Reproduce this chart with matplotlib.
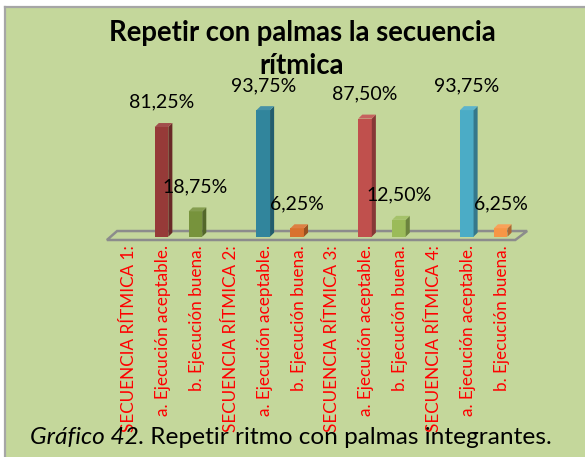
import matplotlib
matplotlib.use('Agg')
import matplotlib.pyplot as plt
from matplotlib.patches import Rectangle, Polygon
from matplotlib.lines import Line2D
from matplotlib.colors import to_rgb
import numpy as np

plt.rcParams['font.family'] = ['Lato', 'DejaVu Sans']

categories = ["SECUENCIA RÍTMICA 1:", "a. Ejecución aceptable.", "b. Ejecución buena.",
              "SECUENCIA RÍTMICA 2:", "a. Ejecución aceptable.", "b. Ejecución buena.",
              "SECUENCIA RÍTMICA 3:", "a. Ejecución aceptable.", "b. Ejecución buena.",
              "SECUENCIA RÍTMICA 4:", "a. Ejecución aceptable.", "b. Ejecución buena."]
values = [None, 81.25, 18.75, None, 93.75, 6.25, None, 87.50, 12.50, None, 93.75, 6.25]
value_labels = ["", "81,25%", "18,75%", "", "93,75%", "6,25%", "", "87,50%", "12,50%", "", "93,75%", "6,25%"]
bar_colors = [None, "#963A38", "#77933C", None, "#31859C", "#D9722E", None, "#C0504D", "#9BBB59", None, "#4BACC6", "#F79646"]

title_line1 = "Repetir con palmas la secuencia"
title_line2 = "rítmica"
caption_italic = "Gráfico 42."
caption_rest = " Repetir ritmo con palmas integrantes."

W, H = 585, 457
fig = plt.figure(figsize=(W / 100, H / 100), dpi=100)
fig.patch.set_facecolor('white')

bg = "#C4D79B"
fig.add_artist(Rectangle((5 / W, 0), 1 - 5 / W, 1 - 7 / H, transform=fig.transFigure,
                         facecolor=bg, edgecolor='none', zorder=-10))
fig.add_artist(Line2D([5 / W, 5 / W], [0, 1 - 7 / H], transform=fig.transFigure, color='#A6A6A6', lw=1.6))
fig.add_artist(Line2D([5 / W, 1], [1 - 7 / H, 1 - 7 / H], transform=fig.transFigure, color='#A6A6A6', lw=1.6))

ax_left, ax_right = 112, 519
ax_bottom, ax_top = 236.7, 101.7
ax = fig.add_axes([ax_left / W, (H - ax_bottom) / H, (ax_right - ax_left) / W, (ax_bottom - ax_top) / H])
ax.set_xlim(-0.5, 11.5)
ax.set_ylim(0, 100)
ax.patch.set_visible(False)
for s in ax.spines.values():
    s.set_visible(False)
ax.set_yticks([])

# floor
floor = Polygon([(-0.65, -2.44), (11.39, -2.44), (11.74, 4.2), (-0.35, 4.2)], closed=True,
                fill=False, edgecolor='#8C8C8C', lw=1.8, clip_on=False, zorder=1)
ax.add_patch(floor)

dx, dy = 0.12, 2.95
fw = 0.40
off = 0.24
for i, (v, c, lbl) in enumerate(zip(values, bar_colors, value_labels)):
    if v is None:
        continue
    rgb = np.array(to_rgb(c))
    side = rgb * 0.70
    top = rgb + (1 - rgb) * 0.10
    x0 = i - off
    x1 = x0 + fw
    ax.bar(x0, v, width=fw, align='edge', color=c, edgecolor='none', zorder=3, clip_on=False)
    ax.add_patch(Polygon([(x1, 0), (x1 + dx, dy), (x1 + dx, v + dy), (x1, v)], closed=True,
                         facecolor=side, edgecolor='none', zorder=3, clip_on=False))
    ax.add_patch(Polygon([(x0, v), (x1, v), (x1 + dx, v + dy), (x0 + dx, v + dy)], closed=True,
                         facecolor=top, edgecolor='none', zorder=3, clip_on=False))
    ax.annotate(lbl, (i - 0.04, v), xytext=(0, 17.8), textcoords='offset points',
                ha='center', va='center', fontsize=14, color='black', zorder=5,
                annotation_clip=False)

ax.set_xticks(range(len(categories)))
ax.set_xticklabels(categories, rotation=90, color='#FF0000', fontsize=12.3, va='top')
ax.tick_params(axis='x', length=0, pad=6)

fig.text(302 / W, 1 - 40.5 / H, title_line1, ha='center', va='baseline', fontsize=19.8, fontweight='bold')
fig.text(302 / W, 1 - 73.5 / H, title_line2, ha='center', va='baseline', fontsize=19.8, fontweight='bold')

t1 = fig.text(30 / W, 1 - 444 / H, caption_italic, ha='left', va='baseline', fontsize=17.6, style='italic')
fig.canvas.draw()
bb = t1.get_window_extent()
fig.text(bb.x1 / W, 1 - 444 / H, caption_rest, ha='left', va='baseline', fontsize=17.6)

fig.savefig('out.png', dpi=100, facecolor=fig.get_facecolor())
